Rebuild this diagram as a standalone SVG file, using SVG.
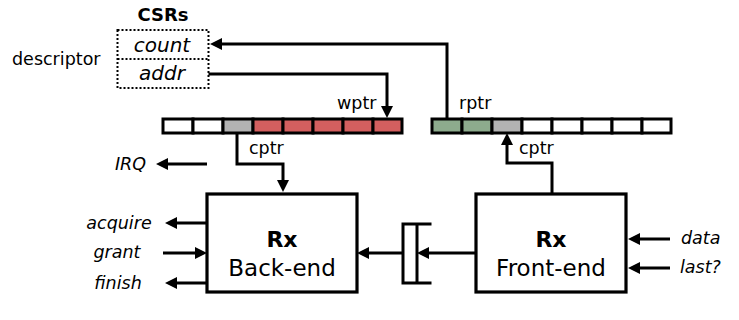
<svg xmlns="http://www.w3.org/2000/svg" width="739" height="320" viewBox="0 0 739 320">
<style>
text{font-family:"DejaVu Sans",Verdana,sans-serif;fill:#000}
.lbl{font-size:17.5px}
.it{font-style:italic}
.csr{font-size:20px;font-style:italic}
.box{fill:#fff;stroke:#000;stroke-width:3.2}
.cell{stroke:#000;stroke-width:3}
.w{fill:#fff}.g{fill:#b3b3b3}.r{fill:#d35f5f}.gr{fill:#8dab8d}
.wire{fill:none;stroke:#000;stroke-width:3}
.arr{marker-end:url(#ah)}
</style>
<defs>
<marker id="ah" markerUnits="userSpaceOnUse" markerWidth="12" markerHeight="12" refX="8" refY="6" orient="auto">
<path d="M0,0 L12,6 L0,12 z" fill="#000"/>
</marker>
</defs>

<g id="csrs">
<text x="163" y="21" text-anchor="middle" style="font-size:18px;font-weight:bold">CSRs</text>
<rect x="117.5" y="30" width="91" height="58" fill="#fff" stroke="#000" stroke-width="2" stroke-dasharray="2,2"/>
<line x1="117.5" y1="59" x2="208.5" y2="59" stroke="#000" stroke-width="2" stroke-dasharray="2,2"/>
<text x="162" y="52" text-anchor="middle" class="csr">count</text>
<text x="162" y="80" text-anchor="middle" class="csr">addr</text>
<text x="12" y="65" class="lbl">descriptor</text>
</g>

<g id="rx-ring">
<rect class="cell w" x="163" y="119" width="30" height="14"/>
<rect class="cell w" x="193" y="119" width="30" height="14"/>
<rect class="cell g" x="223" y="119" width="30" height="14"/>
<rect class="cell r" x="253" y="119" width="30" height="14"/>
<rect class="cell r" x="283" y="119" width="30" height="14"/>
<rect class="cell r" x="313" y="119" width="30" height="14"/>
<rect class="cell r" x="343" y="119" width="30" height="14"/>
<rect class="cell r" x="373" y="119" width="29" height="14"/>
</g>

<g id="tx-ring">
<rect class="cell gr" x="432" y="119" width="30" height="14"/>
<rect class="cell gr" x="462" y="119" width="30" height="14"/>
<rect class="cell g" x="492" y="119" width="30" height="14"/>
<rect class="cell w" x="522" y="119" width="30" height="14"/>
<rect class="cell w" x="552" y="119" width="30" height="14"/>
<rect class="cell w" x="582" y="119" width="30" height="14"/>
<rect class="cell w" x="612" y="119" width="30" height="14"/>
<rect class="cell w" x="642" y="119" width="29" height="14"/>
</g>

<g id="backend">
<rect class="box" x="207" y="194" width="150" height="98"/>
<text x="282" y="247" text-anchor="middle" style="font-size:22px;font-weight:bold">Rx</text>
<text x="282" y="276" text-anchor="middle" style="font-size:23px">Back-end</text>
</g>

<g id="frontend">
<rect class="box" x="476" y="194" width="150" height="98"/>
<text x="551" y="247" text-anchor="middle" style="font-size:22px;font-weight:bold">Rx</text>
<text x="551" y="276" text-anchor="middle" style="font-size:23px">Front-end</text>
</g>

<g id="register">
<path class="wire" d="M431.5,224 H403 V283 H431.5 M417,224 V283"/>
</g>

<g id="connectors">
<path class="wire arr" d="M447,119 V44 H214"/>
<path class="wire arr" d="M208.5,74 H387 V114"/>
<path class="wire arr" d="M237,133 V164 H283 V188"/>
<path class="wire arr" d="M552,194 V163 H507 V137"/>
<path class="wire arr" d="M207,164 H160"/>
<path class="wire arr" d="M476,253 H421"/>
<path class="wire arr" d="M403,253 H361"/>
<path class="wire arr" d="M207,223 H169"/>
<path class="wire arr" d="M163,253 H203"/>
<path class="wire arr" d="M207,283 H169"/>
<path class="wire arr" d="M670,239 H632"/>
<path class="wire arr" d="M670,268 H632"/>
</g>

<g id="labels">
<text x="337" y="109" class="lbl">wptr</text>
<text x="459" y="109" class="lbl">rptr</text>
<text x="249" y="154" class="lbl">cptr</text>
<text x="519" y="154" class="lbl">cptr</text>
<text x="146" y="170" text-anchor="end" class="lbl it">IRQ</text>
<text x="119" y="229" text-anchor="middle" class="lbl it">acquire</text>
<text x="117" y="258" text-anchor="middle" class="lbl it">grant</text>
<text x="118" y="289" text-anchor="middle" class="lbl it">finish</text>
<text x="681" y="244" class="lbl it">data</text>
<text x="680" y="273" class="lbl it">last?</text>
</g>
</svg>
